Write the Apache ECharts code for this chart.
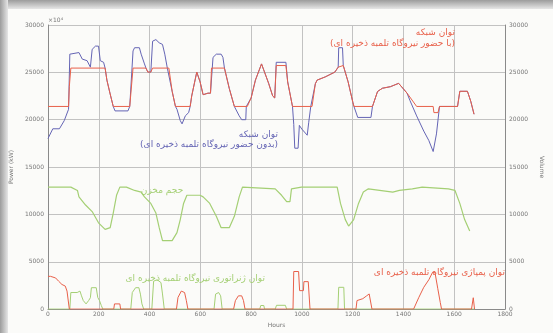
<!DOCTYPE html>
<html><head><meta charset="utf-8">
<script src="https://cdn.jsdelivr.net/npm/echarts@6/dist/echarts.min.js"></script>
<style>html,body{margin:0;padding:0;background:#fbfbf9;}#c{width:553px;height:333px;}</style>
</head><body><div id="c"></div>
<script>
// ---- data (time, kW) ----
const xTicks = [0,200,400,600,800,1000,1200,1400,1600,1800];
const yTicks = [0,5000,10000,15000,20000,25000,30000];

const gridWithout = [[0,18010],[19,19040],[45,19040],[64,19900],[81,21100],[86,26920],[90,26750],[122,27090],[129,27260],[135,26400],[154,26230],[167,25550],[174,27430],[187,27770],[199,27770],[206,26230],[219,26060],[225,25450],[232,24180],[244,22810],[257,21400],[264,20930],[315,20930],[322,21400],[335,27260],[341,27600],[360,27600],[367,26920],[380,25890],[386,25450],[393,25030],[405,25030],[412,28290],[425,28460],[438,28120],[451,27950],[460,26920],[470,25450],[476,25450],[489,23000],[502,21400],[508,21100],[521,19900],[528,19560],[541,20410],[554,20750],[560,21400],[566,22500],[586,25030],[592,25030],[599,24000],[611,22640],[630,22800],[640,22800],[650,26580],[663,26920],[682,26920],[689,26580],[695,25450],[714,23300],[734,21400],[740,21270],[753,20410],[763,20000],[779,20000],[781,21400],[785,21400],[800,22300],[817,24180],[841,25890],[869,23840],[885,22500],[893,22300],[899,26060],[937,26060],[944,24000],[963,21400],[968,19500],[972,16990],[985,16990],[990,19400],[1000,19000],[1010,18700],[1021,18360],[1027,19730],[1035,21400],[1040,21400],[1053,23800],[1060,24180],[1092,24520],[1130,25030],[1143,25550],[1145,27600],[1160,27600],[1163,25720],[1182,24000],[1201,21800],[1205,21400],[1220,20240],[1272,20240],[1278,21400],[1298,22980],[1317,23320],[1349,23490],[1381,23840],[1414,22810],[1426,22000],[1452,20400],[1480,18800],[1500,17800],[1517,16640],[1530,18500],[1542,21400],[1613,21400],[1622,23000],[1652,23000],[1665,21950],[1678,20580]];

const gridWith = [[0,21400],[81,21400],[84,23500],[90,25450],[225,25450],[232,24180],[244,22810],[257,21400],[322,21400],[335,25450],[386,25450],[393,25030],[405,25030],[412,25450],[476,25450],[489,23000],[502,21400],[560,21400],[566,22500],[586,25030],[592,25030],[599,24000],[611,22640],[630,22800],[640,22800],[644,25450],[695,25450],[714,23300],[734,21400],[785,21400],[800,22300],[817,24180],[841,25890],[869,23840],[885,22500],[893,22300],[899,25720],[937,25720],[944,24000],[963,21400],[1040,21400],[1053,23800],[1060,24180],[1092,24520],[1130,25030],[1143,25550],[1163,25720],[1182,24000],[1201,21800],[1205,21400],[1278,21400],[1298,22980],[1317,23320],[1349,23490],[1381,23840],[1414,22810],[1452,21400],[1517,21400],[1520,20750],[1536,20750],[1542,21400],[1613,21400],[1622,23000],[1652,23000],[1665,21950],[1678,20580]];

const reservoir = [[0,12880],[90,12880],[116,12530],[122,11850],[148,10990],[174,10300],[199,9110],[225,8425],[245,8600],[257,10140],[270,12020],[283,12880],[309,12880],[341,12530],[367,12360],[380,11850],[405,11160],[425,10140],[438,8600],[451,7230],[489,7230],[508,8080],[521,9450],[534,11160],[547,12020],[599,12020],[611,11850],[637,11160],[663,9800],[682,8600],[714,8600],[734,9800],[753,11850],[766,12880],[895,12700],[920,12020],[940,11340],[953,11340],[959,12700],[998,12880],[1139,12880],[1152,11160],[1171,9450],[1184,8770],[1204,9450],[1223,11160],[1242,12360],[1262,12700],[1358,12360],[1384,12530],[1435,12700],[1474,12880],[1577,12700],[1603,12530],[1622,11160],[1641,9450],[1661,8250]];

const generating = [[0,0],[86,0],[90,1750],[115,1750],[126,1900],[132,1400],[139,900],[150,550],[160,900],[167,1200],[171,2260],[190,2260],[196,1230],[203,890],[210,380],[216,0],[326,0],[332,1750],[345,2260],[358,2260],[364,1580],[370,550],[377,0],[409,0],[416,2950],[430,3100],[445,2800],[451,1600],[458,0],[654,0],[660,1580],[672,1750],[680,1400],[686,0],[834,0],[838,380],[850,380],[853,0],[895,0],[900,400],[935,400],[940,0],[1142,0],[1145,2300],[1165,2300],[1168,0],[1680,0]];

const pumping = [[0,3460],[10,3460],[30,3290],[42,2945],[55,2600],[68,2430],[75,1900],[81,1900],[84,0],[259,0],[262,550],[283,550],[286,0],[506,0],[512,1230],[525,1900],[532,2090],[538,1750],[545,890],[551,0],[731,0],[738,890],[750,1400],[763,1400],[770,890],[776,0],[965,0],[968,3970],[987,3970],[991,1950],[1006,1950],[1008,2900],[1025,2900],[1032,0],[1213,0],[1217,900],[1240,1100],[1255,1400],[1265,1600],[1272,1600],[1276,0],[1440,0],[1460,1200],[1480,2300],[1500,3100],[1515,3900],[1524,3900],[1535,2200],[1545,700],[1550,0],[1668,0],[1675,1200],[1680,0]];

const RLM = '\u200F';
const labels = {
  withL1: 'توان شبکه', withL2: RLM + '(با حضور نیروگاه تلمبه ذخیره ای)' + RLM,
  withoutL1: 'توان شبکه', withoutL2: RLM + '(بدون حضور نیروگاه تلمبه ذخیره ای)' + RLM,
  reservoir: 'حجم مخزن',
  gen: 'توان ژنراتوری نیروگاه تلمبه ذخیره ای',
  pump: 'توان پمپاژی نیروگاه تلمبه ذخیره ای'
};

const RED = '#e8604a', BLUE = '#6464b4', GREEN = '#a4cf74';
const FF = 'DejaVu Sans';
const chart = echarts.init(document.getElementById('c'), null, {renderer:'canvas'});
const axisLbl = {fontSize:6, color:'#777', fontFamily:FF, formatter: v => String(v)};
const split = {show:true, lineStyle:{color:'#c2c2c2', width:1}};
function yAx(pos, name, rot, gap){
  return {type:'value', position:pos, min:yTicks[0], max:yTicks[yTicks.length-1], interval:yTicks[1]-yTicks[0],
    name:name, nameLocation:'middle', nameRotate:rot, nameGap:gap,
    nameTextStyle:{fontSize:6, color:'#777', fontFamily:FF},
    axisLine:{show:true, lineStyle:{color:'#8a8a8a'}}, axisTick:{show:false},
    axisLabel:Object.assign({margin:4}, axisLbl), splitLine:split};
}
function txt(x,y,s,color,align){
  return {type:'text', x:x, y:y, z:100, style:{text:s, fill:color, font:'9px "DejaVu Sans"', textAlign:align||'right', textVerticalAlign:'middle'}};
}
chart.setOption({
  animation:false,
  backgroundColor:'#fbfbf9',
  grid:{left:46, right:41, top:25, bottom:16},
  xAxis:{type:'value', min:xTicks[0], max:xTicks[xTicks.length-1], interval:xTicks[1]-xTicks[0],
    name:'Hours', nameLocation:'middle', nameGap:8, nameTextStyle:{fontSize:6,color:'#777',fontFamily:FF},
    axisLine:{show:true, lineStyle:{color:'#8a8a8a'}}, axisTick:{show:false},
    axisLabel:Object.assign({margin:2}, axisLbl), splitLine:split},
  yAxis:[yAx('left','Power (kW)',90,26), yAx('right','Volume',-90,24)],
  series:[
    {type:'line', data:gridWithout, showSymbol:false, lineStyle:{color:BLUE,width:1}, z:2},
    {type:'line', data:gridWith, showSymbol:false, lineStyle:{color:RED,width:1}, z:3},
    {type:'line', yAxisIndex:1, data:reservoir, showSymbol:false, lineStyle:{color:GREEN,width:1.2}, z:2},
    {type:'line', data:generating, showSymbol:false, lineStyle:{color:GREEN,width:1}, z:2},
    {type:'line', data:pumping, showSymbol:false, lineStyle:{color:RED,width:1}, z:3}
  ],
  graphic:[
    {type:'rect', shape:{x:0,y:0,width:553,height:9}, z:0, style:{fill:new echarts.graphic.LinearGradient(0,0,0,1,[{offset:0,color:'#9c9c9c'},{offset:1,color:'#e6e6e6'}])}},
    {type:'rect', shape:{x:0,y:0,width:8,height:333}, z:0, style:{fill:new echarts.graphic.LinearGradient(0,0,1,0,[{offset:0,color:'#9c9c9c'},{offset:1,color:'#e6e6e6'}])}},
    {type:'text', x:48, y:20, z:100, style:{text:'×10⁴', fill:'#777', font:'6px "DejaVu Sans"', textVerticalAlign:'middle'}},
    txt(455,33,labels.withL1,RED), txt(455,44,labels.withL2,RED),
    txt(278,135,labels.withoutL1,BLUE), txt(278,145,labels.withoutL2,BLUE),
    txt(162,191,labels.reservoir,GREEN,'center'),
    txt(265,279,labels.gen,GREEN),
    txt(505,273,labels.pump,RED)
  ]
});
</script></body></html>
